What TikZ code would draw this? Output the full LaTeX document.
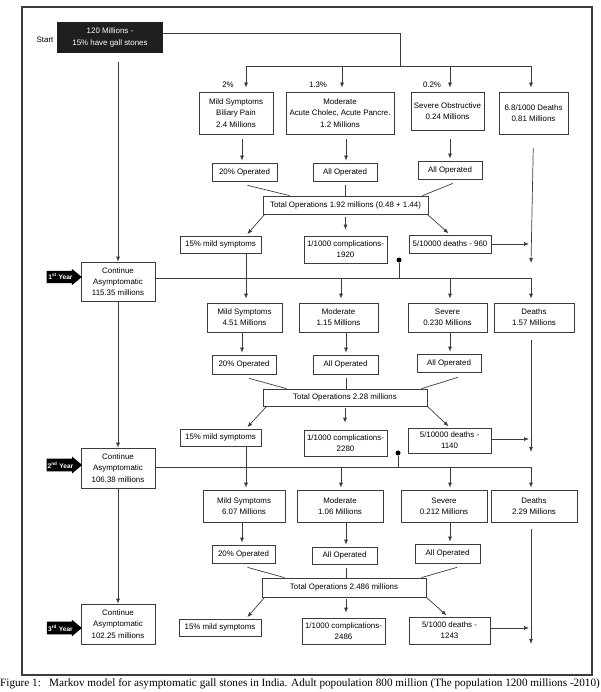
\documentclass[tikz,border=0pt]{standalone}
\usepackage{fontspec}
\setmainfont{Liberation Sans}
\newfontfamily\capfont{Liberation Serif}
\usetikzlibrary{arrows.meta}
\usetikzlibrary{shapes.arrows}

\definecolor{linegray}{HTML}{3C3C3C}

\tikzset{
	box/.style={draw=linegray, line width=0.7pt, align=center, inner sep=1pt,
		font=\fontsize{7.9}{11.2}\selectfont},
	startbox/.style={fill=black!88, text=white, align=center, inner sep=1pt,
		font=\fontsize{7.9}{11.5}\selectfont},
	yeararrow/.style={single arrow, fill=black, text=white, inner xsep=1pt, inner ysep=3pt,
		single arrow head extend=2pt, single arrow tip angle=80, minimum height=35pt,
		font=\bfseries\fontsize{6.6}{7}\selectfont},
	dot/.style={circle, fill=black, inner sep=0pt, minimum size=5pt},
	lbl/.style={font=\fontsize{7.9}{9}\selectfont, inner sep=0pt},
	link/.style={draw=linegray, line width=0.7pt},
	arr/.style={link, -{Latex[length=5pt,width=4pt]}, shorten >=2pt},
}

\begin{document}
\begin{tikzpicture}[x=1pt, y=-1pt]

	\useasboundingbox (0,0) rectangle (600,692);
	\draw[linegray, line width=1.4pt] (22,7) rectangle (592,675);

	% start of the model
	\node[startbox, minimum width=106pt, minimum height=31pt] (start) at (110,37.5) {120 Millions -\\15\% have gall stones};
	\node[lbl] (startlbl) at (45,40) {Start};

	% branch points of the first split
	\coordinate (sdown) at (118,62);
	\coordinate (split) at (400,66);
	\coordinate (b1) at (246,66);
	\coordinate (b2) at (342,66);
	\coordinate (b3) at (450,66);
	\coordinate (b4) at (531,66);

	%%%%%%%%%%%%%%%%%%%%%%%%%%%%%%%%%%%%%%%%%%%%%%%%%%%%%%%%%
	% first year
	\node[lbl] (p1) at (228,85) {2\%};
	\node[lbl] (p2) at (318,85) {1.3\%};
	\node[lbl] (p3) at (432,85) {0.2\%};

	\node[box, minimum width=74pt, minimum height=42pt] (mild1) at (236,113) {Mild Symptoms\\Biliary Pain\\2.4 Millions};
	\node[box, minimum width=108pt, minimum height=42pt] (mod1) at (340,113) {Moderate\\Acute Cholec, Acute Pancre.\\1.2 Millions};
	\node[box, minimum width=73pt, minimum height=38pt] (sev1) at (447.5,111) {Severe Obstructive\\0.24 Millions};
	\node[box, minimum width=69pt, minimum height=42pt] (dth1) at (533.5,113) {6.8/1000 Deaths\\0.81 Millions};

	\node[box, minimum width=65pt, minimum height=18pt] (op1a) at (244.5,172) {20\% Operated};
	\node[box, minimum width=64pt, minimum height=18pt] (op1b) at (345,172) {All Operated};
	\node[box, minimum width=64pt, minimum height=18pt] (op1c) at (450,170) {All Operated};

	\node[box, minimum width=165pt, minimum height=18pt] (tot1) at (345.5,205) {Total Operations 1.92 millions (0.48 + 1.44)};

	\node[box, minimum width=81pt, minimum height=17pt] (ms1) at (220.5,244.5) {15\% mild symptoms};
	\node[box, minimum width=83pt, minimum height=27pt] (cp1) at (345.5,249.5) {1/1000 complications-\\1920};
	\node[box, minimum width=82pt, minimum height=18pt] (dt1) at (450,244) {5/10000 deaths - 960};

	\node[box, minimum width=74pt, minimum height=39pt] (cont1) at (118,281.5) {Continue\\Asymptomatic\\115.35 millions};
	\node[yeararrow] (yr1) at (60.5,277) {1\textsuperscript{st} Year};
	\node[dot] (dot1) at (399,260) {};
	\coordinate (e1) at (531,263);
	\coordinate (h1) at (531,278);

	\draw[link] ([yshift=4.5pt]start.east) -| (split);
	\draw[link] (b1) -- (b4);
	\draw[arr, shorten >=4pt] (b1) -- (b1 |- mild1.north);
	\draw[arr, shorten >=4pt] (b2) -- (b2 |- mod1.north);
	\draw[arr, shorten >=4pt] (b3) -- (b3 |- sev1.north);
	\draw[arr, shorten >=4pt] (b4) -- (b4 |- dth1.north);

	\draw[arr, shorten <=5pt] (mild1.south -| 242,0) -- (242,0 |- op1a.north);
	\draw[arr, shorten <=5pt] (mod1.south -| 346,0) -- (346,0 |- op1b.north);
	\draw[arr, shorten <=9pt] (sev1.south -| op1c.north) -- (op1c.north);

	\draw[link] ([xshift=3pt, yshift=-4pt]op1a.south) -- ([xshift=27pt]tot1.north west);
	\draw[link] ([yshift=-4pt]op1b.south) -- (op1b.south |- tot1.north);
	\draw[link] ([xshift=3pt, yshift=-4pt]op1c.south) -- ([xshift=-6pt]tot1.north east);

	\draw[arr] ([xshift=2pt]tot1.south west) -- (b1 |- ms1.north);
	\draw[arr, shorten <=3pt, shorten >=6pt] (tot1.south) -- (tot1.south |- cp1.north);
	\draw[arr] ([xshift=-1pt]tot1.south east) -- (b3 |- dt1.north);

	\draw[arr] (dt1.east) -- (dt1.east -| b4);
	\draw[arr, shorten <=14pt, shorten >=0pt] (dth1.south) -- (e1);

	\draw[arr, shorten >=0pt] (sdown) -- (cont1.north);
	\draw[link] (cont1.east |- h1) -- (h1);
	\draw[link] (ms1.south -| b1) -- (b1 |- h1);
	\draw[link] (dot1) -- (dot1 |- h1);

	%%%%%%%%%%%%%%%%%%%%%%%%%%%%%%%%%%%%%%%%%%%%%%%%%%%%%%%%%
	% second year
	\node[box, minimum width=75pt, minimum height=29pt] (mild2) at (244.5,317.5) {Mild Symptoms\\4.51 Millions};
	\node[box, minimum width=79pt, minimum height=29pt] (mod2) at (338.5,317.5) {Moderate\\1.15 Millions};
	\node[box, minimum width=79pt, minimum height=29pt] (sev2) at (447.5,317.5) {Severe\\0.230 Millions};
	\node[box, minimum width=80pt, minimum height=29pt] (dth2) at (534,317.5) {Deaths\\1.57 Millions};

	\node[box, minimum width=64pt, minimum height=19pt] (op2a) at (244,364.5) {20\% Operated};
	\node[box, minimum width=65pt, minimum height=19pt] (op2b) at (345.5,364.5) {All Operated};
	\node[box, minimum width=64pt, minimum height=18pt] (op2c) at (449,363) {All Operated};

	\node[box, minimum width=164pt, minimum height=17pt] (tot2) at (345,397.5) {Total Operations 2.28 millions};

	\node[box, minimum width=81pt, minimum height=17pt] (ms2) at (220.5,437.5) {15\% mild symptoms};
	\node[box, minimum width=83pt, minimum height=26pt] (cp2) at (345.5,443) {1/1000 complications-\\2280};
	\node[box, minimum width=83pt, minimum height=25pt] (dt2) at (449.5,440.5) {5/10000 deaths -\\1140};

	\node[box, minimum width=74pt, minimum height=40pt] (cont2) at (118,468) {Continue\\Asymptomatic\\106.38 millions};
	\node[yeararrow] (yr2) at (60.5,465) {2\textsuperscript{nd} Year};
	\node[dot] (dot2) at (398,453) {};
	\coordinate (e2) at (531,452);
	\coordinate (h2) at (531,467);

	\draw[arr, shorten >=4pt] (b1 |- h1) -- (b1 |- mild2.north);
	\draw[arr, shorten >=4pt] (341,0 |- h1) -- (341,0 |- mod2.north);
	\draw[arr, shorten >=4pt] (b3 |- h1) -- (b3 |- sev2.north);
	\draw[arr, shorten >=4pt] (h1) -- (b4 |- dth2.north);

	\draw[arr] (mild2.south -| 242,0) -- (242,0 |- op2a.north);
	\draw[arr] (mod2.south -| 346,0) -- (346,0 |- op2b.north);
	\draw[arr] (sev2.south -| b3) -- (b3 |- op2c.north);

	\draw[link] ([xshift=5pt, yshift=-4pt]op2a.south) -- ([xshift=24pt]tot2.north west);
	\draw[link] ([xshift=1pt, yshift=-4pt]op2b.south) -- ([xshift=1pt]op2b.south |- tot2.north);
	\draw[link] ([xshift=9pt, yshift=-5pt]op2c.south) -- ([xshift=-6pt]tot2.north east);

	\draw[arr] ([xshift=4pt]tot2.south west) -- (b1 |- ms2.north);
	\draw[arr, shorten <=2pt, shorten >=7pt] (tot2.south) -- (tot2.south |- cp2.north);
	\draw[arr] (tot2.south east) -- (b3 |- dt2.north);

	\draw[arr, shorten >=2pt] ([yshift=1.5pt]dt2.east) -- ([yshift=1.5pt]dt2.east -| b4);
	\draw[arr, shorten <=8pt, shorten >=0pt] (dth2.south -| b4) -- (e2);

	\draw[arr, shorten >=0pt] (cont1.south) -- (cont2.north);
	\draw[link] (cont2.east |- h2) -- (h2);
	\draw[link] (ms2.south -| b1) -- (b1 |- h2);
	\draw[link] (dot2) -- (dot2 |- h2);

	%%%%%%%%%%%%%%%%%%%%%%%%%%%%%%%%%%%%%%%%%%%%%%%%%%%%%%%%%
	% third year
	\node[box, minimum width=82pt, minimum height=32pt] (mild3) at (244,506) {Mild Symptoms\\6.07 Millions};
	\node[box, minimum width=86pt, minimum height=32pt] (mod3) at (340,506) {Moderate\\1.06 Millions};
	\node[box, minimum width=86pt, minimum height=32pt] (sev3) at (444,506) {Severe\\0.212 Millions};
	\node[box, minimum width=86pt, minimum height=32pt] (dth3) at (534,506) {Deaths\\2.29 Millions};

	\node[box, minimum width=63pt, minimum height=18pt] (op3a) at (243.5,554) {20\% Operated};
	\node[box, minimum width=65pt, minimum height=17pt] (op3b) at (344.5,555.5) {All Operated};
	\node[box, minimum width=65pt, minimum height=19pt] (op3c) at (447.5,553.5) {All Operated};

	\node[box, minimum width=164pt, minimum height=19pt] (tot3) at (344,587.5) {Total Operations 2.486 millions};

	\node[box, minimum width=82pt, minimum height=17pt] (ms3) at (220,627.5) {15\% mild symptoms};
	\node[box, minimum width=83pt, minimum height=26pt] (cp3) at (343.5,631) {1/1000 complications-\\2486};
	\node[box, minimum width=81pt, minimum height=27pt] (dt3) at (449.5,630.5) {5/1000 deaths -\\1243};

	\node[box, minimum width=74pt, minimum height=40pt] (cont3) at (118,624) {Continue\\Asymptomatic\\102.25 millions};
	\node[yeararrow] (yr3) at (60.5,628) {3\textsuperscript{rd} Year};
	\coordinate (e3) at (531,644);

	\draw[arr, shorten >=2pt] (b1 |- h2) -- (b1 |- mild3.north);
	\draw[arr, shorten >=2pt] (341,0 |- h2) -- (341,0 |- mod3.north);
	\draw[arr, shorten >=2pt] (b3 |- h2) -- (b3 |- sev3.north);
	\draw[arr, shorten >=2pt] (h2) -- (b4 |- dth3.north);

	\draw[arr] (mild3.south -| 242,0) -- (242,0 |- op3a.north);
	\draw[arr] (mod3.south -| 346,0) -- (346,0 |- op3b.north);
	\draw[arr] (sev3.south -| b3) -- (b3 |- op3c.north);

	\draw[link] ([xshift=4pt, yshift=-4pt]op3a.south) -- ([xshift=23pt]tot3.north west);
	\draw[link] ([xshift=1.5pt, yshift=-4pt]op3b.south) -- ([xshift=1.5pt]op3b.south |- tot3.north);
	\draw[link] ([xshift=9.5pt, yshift=-4pt]op3c.south) -- ([xshift=-5pt]tot3.north east);

	\draw[arr] ([xshift=3pt]tot3.south west) -- (b1 |- ms3.north);
	\draw[arr, shorten <=2pt, shorten >=5pt] ([xshift=2pt]tot3.south) -- ([xshift=2pt]tot3.south |- cp3.north);
	\draw[arr] (tot3.south east) -- ([xshift=-2pt]b3 |- dt3.north);

	\draw[arr, shorten >=2pt] ([yshift=2.5pt]dt3.east) -- ([yshift=2.5pt]dt3.east -| b4);
	\draw[arr, shorten <=7pt, shorten >=0pt] (dth3.south -| b4) -- (e3);

	\draw[arr, shorten >=0pt] (cont2.south) -- (cont3.north);

	%%%%%%%%%%%%%%%%%%%%%%%%%%%%%%%%%%%%%%%%%%%%%%%%%%%%%%%%%
	% caption
	\node[anchor=west, inner sep=0pt, font=\capfont\fontsize{11.2}{12}\selectfont] (figno) at (0,684) {Figure 1:};
	\node[anchor=west, inner sep=0pt, font=\capfont\fontsize{11.2}{12}\selectfont] (caption) at (49,684) {Markov model for asymptomatic gall stones in India. Adult popoulation 800 million (The population 1200 millions -2010)};

\end{tikzpicture}
\end{document}
